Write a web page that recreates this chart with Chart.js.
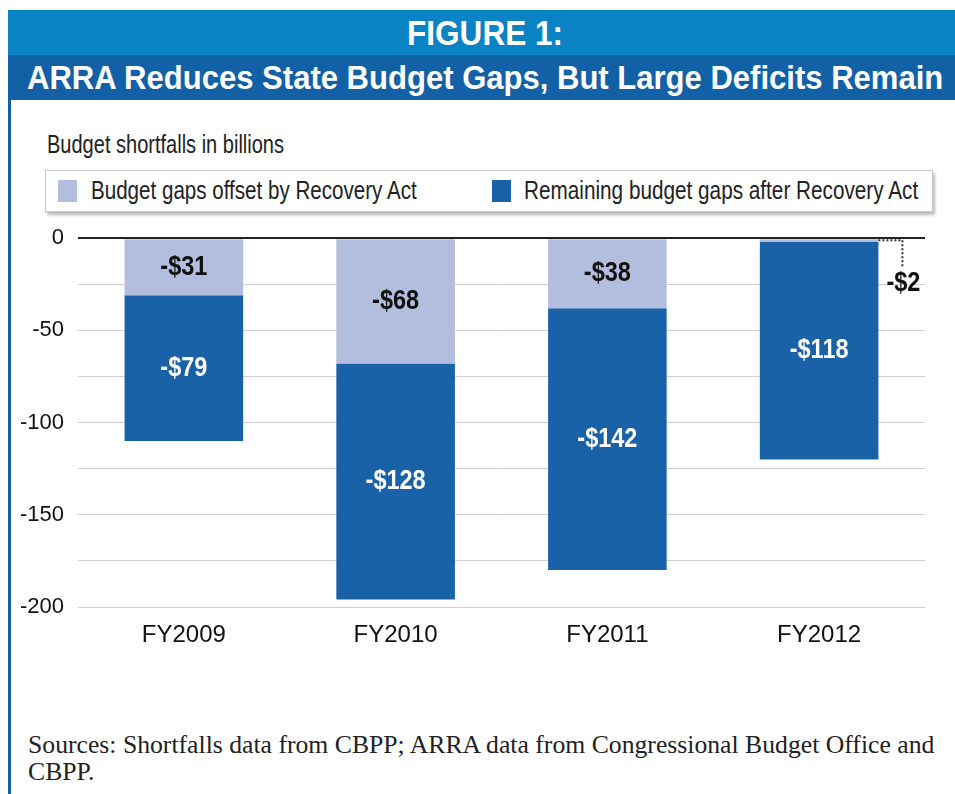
<!DOCTYPE html>
<html>
<head>
<meta charset="utf-8">
<script src="https://cdn.jsdelivr.net/npm/chart.js@4"></script>
<style>
  body { margin: 0; width: 955px; height: 794px; background: #fff; position: relative; overflow: hidden;
         font-family: "Liberation Sans", Arial, sans-serif; }
  #band1 { position: absolute; left: 8px; top: 10px; width: 947px; height: 45px; background: #0983c3; }
  #band2 { position: absolute; left: 8px; top: 55px; width: 947px; height: 45px; background: #1261a7; }
  .fit { position: absolute; white-space: nowrap; transform-origin: 0 0; }
  #tit1 { left: 407px; top: 13px; color: #fff; font-size: 35px; font-weight: bold; line-height: 40px; }
  #tit2 { left: 27px; top: 58px; color: #fff; font-size: 33px; font-weight: bold; line-height: 40px; }
  #borda { position: absolute; left: 8px; top: 100px; width: 3px; height: 694px; background: #1261a7; }
  #subtit { left: 47px; top: 130px; font-size: 25px; color: #222; line-height: 28px; }
  #legenda { position: absolute; left: 45px; top: 170px; width: 886px; height: 40px; border: 1px solid #c8c8c8;
             box-shadow: 2px 3px 3px #bbb; }
  .item { font-size: 25px; color: #222; line-height: 28px; top: 176px; }
  .quad { position: absolute; top: 180px; width: 19px; height: 22px; }
  #fonte { position: absolute; left: 28px; top: 731px; width: 915px; font-family: "Liberation Serif", serif;
           font-size: 25.7px; color: #222; line-height: 27px; }
  #grafico { position: absolute; left: 12px; top: 211px; }
</style>
</head>
<body>
<div id="band1"></div>
<div id="band2"></div>
<div class="fit" id="tit1" data-w="156">FIGURE 1:</div>
<div class="fit" id="tit2" data-w="916">ARRA Reduces State Budget Gaps, But Large Deficits Remain</div>
<div id="borda"></div>
<div class="fit" id="subtit" data-w="237">Budget shortfalls in billions</div>
<div id="legenda"></div>
<div class="quad" style="left:58px;background:#b3bede"></div>
<div class="fit item" style="left:91px" data-w="326">Budget gaps offset by Recovery Act</div>
<div class="quad" style="left:492px;background:#1a62a8"></div>
<div class="fit item" style="left:524px" data-w="394">Remaining budget gaps after Recovery Act</div>
<div id="grafico"><canvas id="c" width="930" height="436"></canvas></div>
<div id="fonte">Sources: Shortfalls data from CBPP; ARRA data from Congressional Budget Office and CBPP.</div>
<script>
const anos = ['FY2009', 'FY2010', 'FY2011', 'FY2012'];
const compensado = [-31, -68, -38, -2];   // coberto pelo Recovery Act
const restante = [-79, -128, -142, -118]; // déficit que sobra
const rotulosCompensado = ['-$31', '-$68', '-$38', '-$2'];
const rotulosRestante = ['-$79', '-$128', '-$142', '-$118'];

const corClara = '#b3bede';
const corEscura = '#1a62a8';
const fonte = '"Liberation Sans", Arial, sans-serif';

// aperta os textos na largura do original (fonte condensada nao existe aqui)
document.querySelectorAll('.fit').forEach(el => {
    const alvo = +el.dataset.w;
    el.style.transform = 'scaleX(' + (alvo / el.offsetWidth) + ')';
});

// texto "condensado": escala so no eixo x
function textoEstreito(ctx, txt, x, y) {
    const k = 0.84;
    ctx.save();
    ctx.translate(x, y);
    ctx.scale(k, 1);
    ctx.fillText(txt, 0, 0);
    ctx.restore();
}

// escreve os valores dentro das barras
const rotulos = {
    id: 'rotulos',
    afterDatasetsDraw(chart) {
        const ctx = chart.ctx;
        ctx.save();
        ctx.font = 'bold 28px ' + fonte;
        ctx.textAlign = 'center';
        ctx.textBaseline = 'middle';
        chart.getDatasetMeta(0).data.forEach((bar, i) => {
            const alto = Math.abs(bar.base - bar.y);
            if (alto > 20) {
                ctx.fillStyle = '#111';
                textoEstreito(ctx, rotulosCompensado[i], bar.x, (bar.y + bar.base) / 2);
            } else {
                // valor pequeno: rotulo fora com linha pontilhada
                const xd = bar.x + bar.width / 2;
                const xf = xd + 24;
                ctx.strokeStyle = '#333';
                ctx.lineWidth = 2;
                ctx.setLineDash([2, 2]);
                ctx.beginPath();
                ctx.moveTo(xd, bar.base + 1);
                ctx.lineTo(xf, bar.base + 1);
                ctx.lineTo(xf, bar.base + 28);
                ctx.stroke();
                ctx.setLineDash([]);
                ctx.fillStyle = '#111';
                textoEstreito(ctx, rotulosCompensado[i], xf + 1, bar.base + 44);
            }
        });
        chart.getDatasetMeta(1).data.forEach((bar, i) => {
            ctx.fillStyle = '#fff';
            textoEstreito(ctx, rotulosRestante[i], bar.x, (bar.y + bar.base) / 2);
        });
        ctx.restore();
    }
};

new Chart(document.getElementById('c'), {
    type: 'bar',
    data: {
        labels: anos,
        datasets: [
            { label: 'Budget gaps offset by Recovery Act', data: compensado, backgroundColor: corClara },
            { label: 'Remaining budget gaps after Recovery Act', data: restante, backgroundColor: corEscura }
        ]
    },
    options: {
        responsive: false,
        animation: false,
        layout: { padding: { top: 0, right: 17, left: 0, bottom: 0 } },
        datasets: { bar: { categoryPercentage: 1, barPercentage: 0.56 } },
        plugins: { legend: { display: false }, tooltip: { enabled: false } },
        scales: {
            x: {
                stacked: true,
                grid: { display: false },
                border: { display: false },
                ticks: { color: '#111', font: { family: fonte, size: 24 }, padding: 6 },
                afterFit(s) { s.height = 40; }
            },
            y: {
                stacked: true,
                min: -200,
                max: 0,
                border: { display: false },
                grid: {
                    drawTicks: false,
                    color: ctx => ctx.tick.value === 0 ? '#222' : '#cfcfcf',
                    lineWidth: ctx => ctx.tick.value === 0 ? 2 : 1
                },
                ticks: {
                    stepSize: 25,
                    padding: 14,
                    color: '#111',
                    font: { family: fonte, size: 22 },
                    callback: v => v % 50 === 0 ? v : ''
                },
                afterFit(s) { s.width = 66; }
            }
        }
    },
    plugins: [rotulos]
});
</script>
</body>
</html>
